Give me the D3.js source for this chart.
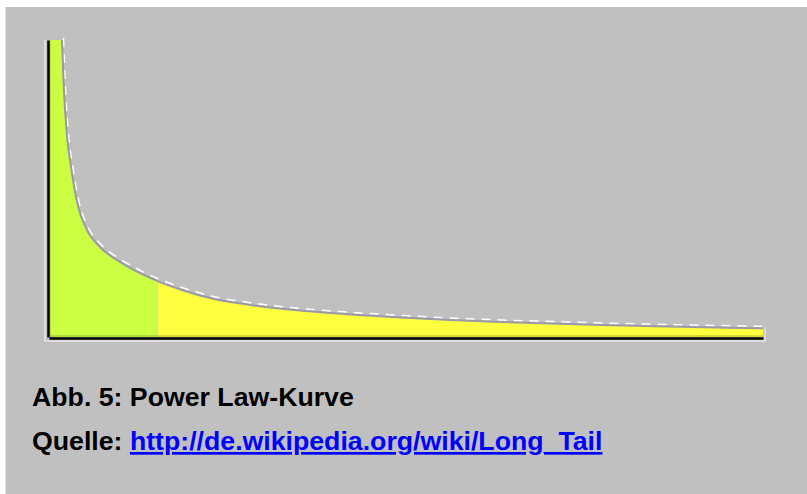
<!DOCTYPE html>
<html><head><meta charset="utf-8">
<script src="https://cdn.jsdelivr.net/npm/d3@7"></script>
<style>body{margin:0;background:#fff}svg{display:block}</style>
</head><body>
<script>
// Data (relative units: x 0..100 rank, y 0..100 popularity)
const xs = [1.82, 2.03, 2.45, 3.15, 4.06, 5.18, 7.14, 9.94, 12.75, 15.55, 19.05, 22.55, 28.15, 35.15, 42.16, 49.16, 56.16, 63.17, 70.17, 77.17, 88.38, 100];
const ys = [100, 86.5, 69.7, 56.2, 44.1, 36.7, 30.3, 25.3, 21.5, 18.5, 15.5, 13.1, 10.8, 8.9, 7.6, 6.6, 5.7, 5.05, 4.55, 4.04, 3.43, 2.93];
const headCut = 15.3;
const caption = "Abb. 5: Power Law-Kurve";
const sourceLabel = "Quelle: ";
const sourceLink = "http://de.wikipedia.org/wiki/Long_Tail";

const W = 807, H = 494;
const svg = d3.select("body").append("svg").attr("width", W).attr("height", H);
svg.append("rect").attr("x", 5).attr("y", 7).attr("width", W - 5).attr("height", H - 7).attr("fill", "#c0c0c0");
svg.append("line").attr("x1",5.5).attr("x2",5.5).attr("y1",7).attr("y2",H).attr("stroke","#e4e4e4").attr("stroke-width",1);

const x = d3.scaleLinear().domain([0, 100]).range([49, 763]);
const y = d3.scaleLinear().domain([0, 100]).range([337, 40]);
const pts = xs.map((v, i) => [v, ys[i]]);

const defs = svg.append("defs");
defs.append("clipPath").attr("id", "head").append("rect")
  .attr("x", x(0)).attr("y", 0).attr("width", x(headCut) - x(0)).attr("height", H);
defs.append("clipPath").attr("id", "tail").append("rect")
  .attr("x", x(headCut)).attr("y", 0).attr("width", x(100) - x(headCut) + 2).attr("height", H);

const area = d3.area().x(d => x(d[0])).y0(y(0)).y1(d => y(d[1])).curve(d3.curveMonotoneX);
const line = d3.line().x(d => x(d[0])).y(d => y(d[1])).curve(d3.curveMonotoneX);
const areaPts = [[0, 100]].concat(pts);

svg.append("path").datum(areaPts).attr("d", area).attr("fill", "#ccff44").attr("clip-path", "url(#head)");
svg.append("path").datum(areaPts).attr("d", area).attr("fill", "#ffff40").attr("clip-path", "url(#tail)");
// darker bottom band of the fill
svg.append("rect").attr("x", x(0)).attr("y", y(0) - 2).attr("width", x(100) - x(0)).attr("height", 2)
  .attr("fill", "#000").attr("opacity", 0.15);
svg.append("rect").attr("x", x(0)).attr("y", y(100)).attr("width", 2).attr("height", y(0) - y(100))
  .attr("fill", "#000").attr("opacity", 0.12);

// curve outline with white highlight dashes
svg.append("path").datum(pts).attr("d", line).attr("fill", "none")
  .attr("stroke", "#ffffff").attr("stroke-width", 1.5).attr("stroke-dasharray", "9,7")
  .attr("transform", "translate(1.5,-2)");
svg.append("path").datum(pts).attr("d", line).attr("fill", "none")
  .attr("stroke", "#9a9aa6").attr("stroke-width", 2);

// light edge below/left of axes
svg.append("path").attr("d", `M${x(0)-4},${y(100)} V${y(0)+4} H${x(100)+2} V${y(3.2)}`)
  .attr("fill", "none").attr("stroke", "#e6e6e6").attr("stroke-width", 1.5);

// axes (no ticks)
const ax = svg.append("g").attr("transform", `translate(0,${y(0) + 1})`)
  .call(d3.axisBottom(x).tickValues([]).tickSizeOuter(0));
const ay = svg.append("g").attr("transform", `translate(${x(0) - 1},0)`)
  .call(d3.axisLeft(y).tickValues([]).tickSizeOuter(0));
[ax, ay].forEach(g => g.select(".domain").attr("stroke", "#000").attr("stroke-width", 2.5));

// captions
const font = "'Liberation Sans', Arial, Helvetica, sans-serif";
svg.append("text").attr("x", 32).attr("y", 406).text(caption)
  .attr("font-family", font).attr("font-weight", "bold").attr("font-size", 26.7).attr("fill", "#000");
const t2 = svg.append("text").attr("x", 32).attr("y", 450)
  .attr("font-family", font).attr("font-weight", "bold").attr("font-size", 26.7);
t2.append("tspan").attr("fill", "#000").text(sourceLabel);
t2.append("tspan").attr("fill", "#0000ff").attr("text-decoration", "underline").text(sourceLink);
</script>
</body></html>
